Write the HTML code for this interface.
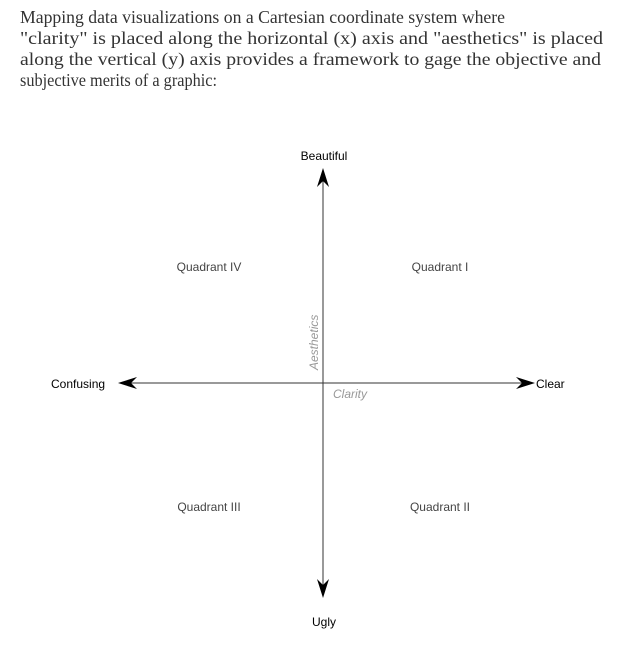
<!DOCTYPE html>
<html><head><style>
body{margin:0;background:#fff;width:617px;height:664px;overflow:hidden}
svg{position:absolute;left:0;top:0}
</style></head><body>
<svg width="617" height="664" font-family="Liberation Sans, sans-serif" font-size="12">
<g font-family="Liberation Serif, serif" font-size="17.5" fill="#333">
<text x="20" y="23" textLength="485" lengthAdjust="spacingAndGlyphs">Mapping data visualizations on a Cartesian coordinate system where</text>
<text x="20" y="44" textLength="583" lengthAdjust="spacingAndGlyphs">"clarity" is placed along the horizontal (x) axis and "aesthetics" is placed</text>
<text x="20" y="65" textLength="581" lengthAdjust="spacingAndGlyphs">along the vertical (y) axis provides a framework to gage the objective and</text>
<text x="20" y="86" textLength="197" lengthAdjust="spacingAndGlyphs">subjective merits of a graphic:</text>
</g>
<line x1="120" y1="383" x2="533" y2="383" stroke="#333" stroke-width="1"/>
<line x1="323" y1="170" x2="323" y2="596" stroke="#333" stroke-width="1"/>
<path d="M118 383 L137 377 L131 383 L137 389 Z" fill="#000"/>
<path d="M535 383 L516 377 L522 383 L516 389 Z" fill="#000"/>
<path d="M323 168 L317 187 L323 181 L329 187 Z" fill="#000"/>
<path d="M323 598 L317 579 L323 585 L329 579 Z" fill="#000"/>
<text x="324" y="160" text-anchor="middle">Beautiful</text>
<text x="324" y="626" text-anchor="middle">Ugly</text>
<text x="51" y="388">Confusing</text>
<text x="536" y="388">Clear</text>
<text x="209" y="271" text-anchor="middle" fill="#444">Quadrant IV</text>
<text x="440" y="271" text-anchor="middle" fill="#444">Quadrant I</text>
<text x="209" y="511" text-anchor="middle" fill="#444">Quadrant III</text>
<text x="440" y="511" text-anchor="middle" fill="#444">Quadrant II</text>
<text x="333" y="398" fill="#999" font-style="italic">Clarity</text>
<text transform="translate(318,370) rotate(-90)" fill="#999" font-style="italic">Aesthetics</text>
</svg>
</body></html>
